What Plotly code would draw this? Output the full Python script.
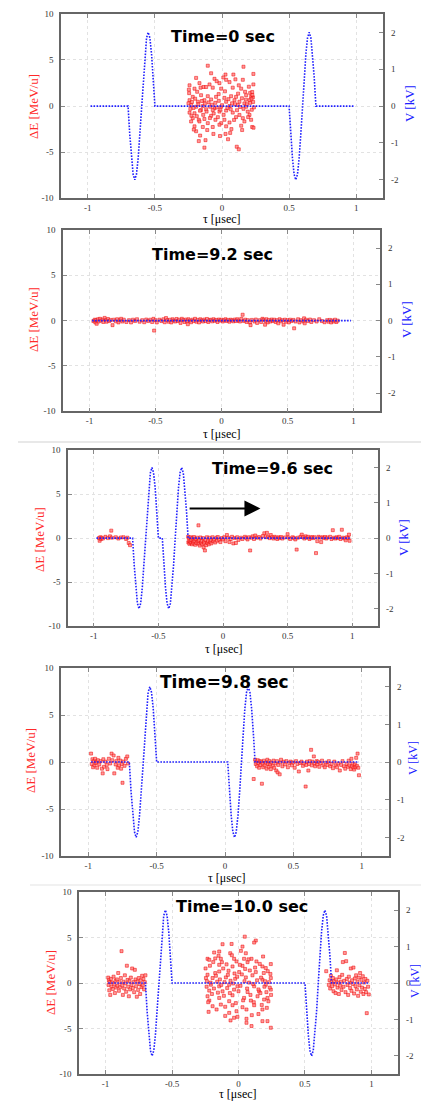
import plotly.graph_objects as go

W, H = 421, 1103

# ---------------- data ----------------
panel_titles = ["Time=0 sec", "Time=9.2 sec", "Time=9.6 sec", "Time=9.8 sec", "Time=10.0 sec"]

tau_ticks = [-1, -0.5, 0, 0.5, 1]
tau_ticktext = ["-1", "-0.5", "0", "0.5", "1"]
de_ticks = [-10, -5, 0, 5, 10]
de_ticktext = ["-10", "-5", "0", "5", "10"]
v_ticks = [-2, -1, 0, 1, 2]
v_ticktext = ["-2", "-1", "0", "1", "2"]

# one RF voltage cycle (offset in usec, voltage in kV)
cycle_dt = [0.0, 0.0125, 0.025, 0.0375, 0.05, 0.0625, 0.075, 0.0875, 0.1,
            0.1125, 0.125, 0.1375, 0.15, 0.1625, 0.175, 0.1875, 0.2]
cycle_v = [0.0, -0.77, -1.41, -1.85, -2.0, -1.85, -1.41, -0.77, 0.0,
           0.77, 1.41, 1.85, 2.0, 1.85, 1.41, 0.77, 0.0]
cycle_starts = [[-0.70, 0.50], [], [-0.70, -0.47], [-0.70, 0.02], [-0.70, 0.50]]
v_line_ends = [-0.98, 0.98]

pts_t0 = [(-0.106,4.38),(0.160,4.27),(-0.081,3.56),(0.026,3.42),(0.085,3.42),(0.234,3.49),(-0.193,3.06),(-0.056,2.96),
(0.031,2.85),(0.155,2.85),(-0.242,2.25),(-0.168,2.49),(-0.138,2.07),(-0.093,2.35),(-0.019,2.49),(0.056,2.60),(0.125,2.25),
(0.234,2.35),(-0.247,1.78),(-0.205,1.89),(-0.118,2.07),(-0.069,2.00),(-0.006,1.89),(0.080,2.00),(0.143,1.89),(0.210,1.43),
(0.225,1.53),(-0.218,1.00),(-0.156,1.18),(-0.106,1.07),(-0.044,1.00),(0.018,0.89),(0.068,1.07),(0.105,1.00),(0.180,1.18),
(0.217,1.00),(-0.242,0.64),(-0.180,0.47),(-0.131,0.64),(-0.081,0.72),(-0.024,0.57),(0.031,0.47),(0.093,0.64),(0.130,0.47),
(0.167,0.29),(0.205,0.64),(-0.230,0.11),(-0.193,-0.07),(-0.143,0.00),(-0.088,-0.07),(-0.056,-0.25),(-0.006,-0.07),(0.056,0.00),
(0.118,0.11),(0.180,-0.07),(-0.242,-0.71),(-0.205,-0.78),(-0.156,-0.42),(-0.118,-0.35),(-0.069,-0.42),(-0.019,-0.60),
(0.031,-0.49),(0.080,-0.71),(0.130,-0.96),(0.192,-0.60),(-0.218,-1.31),(-0.173,-1.49),(-0.131,-1.40),(-0.081,-1.06),
(-0.031,-1.20),(0.018,-1.49),(0.105,-1.20),(0.155,-1.31),(0.205,-0.96),(-0.230,-1.67),(-0.168,-1.67),(-0.106,-1.85),
(-0.049,-1.49),(-0.006,-1.85),(0.056,-1.78),(0.167,-1.67),(0.217,-1.49),(-0.205,-2.20),(-0.143,-2.27),(-0.069,-2.27),
(-0.019,-2.02),(0.031,-2.20),(0.143,-2.13),(0.225,-2.27),(-0.193,-2.73),(-0.064,-3.02),(0.026,-3.02),(0.061,-2.91),
(-0.163,-3.20),(-0.173,-3.80),(-0.123,-3.70),(-0.131,-4.51),(0.110,-4.41),(0.125,-4.69),
(-0.250,0.30),(-0.236,-0.30),(-0.224,0.45),(-0.212,-0.20),(-0.200,0.80),(-0.188,-1.10),(-0.176,0.20),(-0.164,-0.50),
(-0.150,0.55),(-0.140,-0.95),(-0.128,0.25),(-0.115,-0.60),(-0.100,0.40),(-0.090,-1.30),(-0.075,0.15),(-0.062,-0.80),
(-0.050,0.35),(-0.038,-0.15),(-0.025,1.30),(-0.012,-0.40),(0.000,0.10),(0.012,-0.95),(0.022,1.60),(0.040,-0.20),
(0.048,0.75),(0.065,-0.35),(0.075,0.30),(0.090,-1.50),(0.098,0.20),(0.112,-0.45),(0.120,1.35),(0.135,-0.10),(0.148,0.85),
(0.160,-0.30),(0.172,1.55),(0.185,0.20),(0.195,-1.20),(0.210,0.35),(0.222,-0.40),(0.230,0.95),(0.238,-0.15),(-0.245,1.40),
(-0.228,-1.05),(-0.185,1.55),(-0.160,2.00),(-0.110,-2.60),(-0.040,2.70),(0.010,3.10),(0.070,-2.50),(0.100,2.90),
(0.150,-2.60),(0.200,2.10),(0.235,-2.35),(-0.210,-2.55),(0.045,-3.60),(-0.015,-3.25),(0.178,0.70),(0.226,1.20),
(0.232,0.45),(0.220,0.80)]

pts_t92 = [(-0.97,-0.05),(-0.96,0.10),(-0.955,-0.20),(-0.95,0.05),(-0.945,-0.35),(-0.935,0.15),(-0.93,-0.10),(-0.92,0.20),
(-0.91,0.00),(-0.90,0.12),(-0.895,-0.15),(-0.885,0.30),(-0.875,0.05),(-0.87,-0.12),(-0.86,0.18),(-0.85,-0.05),(-0.84,0.08),
(-0.825,-0.50),(-0.815,0.10),(-0.80,-0.08),(-0.79,0.15),(-0.78,-0.20),(-0.77,0.05),(-0.76,0.20),(-0.75,-0.10),(-0.74,0.10),
(-0.72,-0.15),(-0.70,0.05),(-0.685,-0.20),(-0.67,0.10),(-0.655,-0.05),(-0.64,0.15),(-0.62,-0.12),(-0.60,0.05),(-0.585,-0.18),
(-0.57,0.12),(-0.555,-0.05),(-0.54,0.10),(-0.525,-0.15),(-0.515,0.20),(-0.51,-1.10),(-0.50,0.05),(-0.49,-0.20),(-0.47,0.10),
(-0.455,-0.05),(-0.44,0.15),(-0.43,-0.18),(-0.42,0.28),(-0.41,0.05),(-0.40,-0.12),(-0.39,0.10),(-0.38,-0.20),(-0.37,0.15),
(-0.36,0.00),(-0.35,-0.10),(-0.34,0.18),(-0.33,-0.05),(-0.32,0.10),(-0.31,-0.25),(-0.30,0.20),(-0.29,0.05),(-0.28,-0.15),
(-0.27,0.12),(-0.26,-0.08),(-0.255,-0.40),(-0.25,0.15),(-0.24,0.00),(-0.23,-0.18),(-0.22,0.10),(-0.21,-0.05),(-0.20,0.20),
(-0.19,-0.12),(-0.18,0.08),(-0.17,-0.20),(-0.16,0.15),(-0.15,0.02),(-0.14,-0.10),(-0.13,0.12),(-0.12,-0.05),(-0.11,0.18),
(-0.10,-0.15),(-0.09,0.05),(-0.08,0.10),(-0.07,-0.08),(-0.06,0.15),(-0.05,-0.02),(-0.04,0.08),(-0.03,-0.15),(-0.02,0.12),
(-0.01,0.00),(0.00,0.10),(0.01,-0.10),(0.02,0.05),(0.03,0.15),(0.04,-0.05),(0.05,0.08),(0.06,-0.12),(0.07,0.10),(0.08,0.02),
(0.09,-0.08),(0.10,0.12),(0.11,-0.05),(0.12,0.15),(0.13,0.00),(0.14,-0.10),(0.15,0.20),(0.16,0.65),(0.17,-0.05),(0.18,0.10),
(0.19,-0.15),(0.20,0.05),(0.215,-0.20),(0.22,-0.50),(0.23,0.08),(0.25,-0.10),(0.26,0.12),(0.27,-0.25),(0.29,0.05),
(0.30,-0.15),(0.31,0.20),(0.32,0.10),(0.33,-0.45),(0.335,-0.05),(0.34,0.15),(0.35,-0.20),(0.36,0.08),(0.37,-0.10),
(0.38,0.12),(0.39,-0.05),(0.40,0.10),(0.41,-0.15),(0.42,0.05),(0.43,-0.30),(0.44,0.15),(0.45,-0.08),(0.46,0.05),
(0.47,-0.45),(0.48,0.10),(0.49,-0.12),(0.50,0.05),(0.51,-0.20),(0.52,0.10),(0.53,-0.05),(0.545,0.08),(0.55,-0.85),
(0.56,-0.10),(0.58,0.15),(0.59,-0.20),(0.60,0.05),(0.62,-0.10),(0.625,0.25),(0.63,-0.30),(0.64,0.10),(0.655,-0.05),
(0.67,0.12),(0.68,-0.15),(0.70,0.05),(0.72,-0.10),(0.74,0.15),(0.76,-0.05),(0.78,-0.18),(0.80,0.05),(0.81,-0.12),
(0.82,0.08),(0.83,-0.20),(0.84,0.02),(0.85,-0.10),(0.86,0.10),(0.87,-0.15),(0.88,0.00)]

pts_t96 = [(-0.96,0.00),(-0.955,-0.30),(-0.95,0.10),(-0.945,-0.10),(-0.94,0.05),(-0.93,-0.05),(-0.91,0.15),(-0.89,0.00),
(-0.875,0.20),(-0.865,0.85),(-0.86,0.05),(-0.83,0.10),(-0.81,-0.05),(-0.79,0.08),(-0.77,0.10),(-0.75,-0.10),(-0.74,0.05),
(-0.73,-0.55),(-0.72,-0.80),
(-0.27,0.15),(-0.268,-0.50),(-0.265,-0.30),(-0.262,0.05),(-0.26,-0.65),(-0.255,-0.40),(-0.25,0.10),(-0.248,-0.55),
(-0.245,-0.20),(-0.24,-0.70),(-0.235,0.00),(-0.232,-0.45),(-0.228,-0.60),(-0.225,0.12),(-0.22,-0.35),(-0.215,-0.75),
(-0.21,-0.10),(-0.205,-0.55),(-0.20,0.05),(-0.195,-0.40),(-0.19,1.45),(-0.188,-0.65),(-0.185,-0.25),(-0.18,-0.85),
(-0.175,0.08),(-0.17,-0.50),(-0.165,-0.30),(-0.16,-0.70),(-0.155,0.00),(-0.15,-1.05),(-0.148,-0.45),(-0.145,-0.60),
(-0.14,-1.40),(-0.135,-0.20),(-0.13,-0.80),(-0.125,0.10),(-0.12,-0.55),(-0.115,-0.35),(-0.11,-0.70),(-0.105,0.05),
(-0.10,-0.45),(-0.095,-0.25),(-0.09,-0.60),(-0.08,0.10),(-0.075,-0.35),(-0.07,-0.15),(-0.06,-0.50),(-0.05,0.05),
(-0.045,-0.30),(-0.04,0.12),(-0.03,-0.20),(-0.02,-0.45),(-0.01,0.00),(0.00,-0.15),(0.01,0.10),(0.02,-0.35),(0.03,0.35),
(0.04,0.05),(0.05,-0.45),(0.06,-0.10),(0.07,0.15),(0.08,-0.60),(0.09,0.00),(0.10,-0.55),(0.11,0.10),(0.12,-0.20),
(0.14,0.05),(0.15,-0.10),(0.17,0.15),(0.18,0.00),(0.19,-0.15),(0.20,0.10),(0.21,-1.40),(0.22,0.05),(0.23,0.20),
(0.24,-0.10),(0.25,0.30),(0.26,0.05),(0.28,0.12),(0.29,-0.05),(0.31,0.25),(0.32,0.55),(0.33,0.10),(0.34,0.60),(0.35,0.15),
(0.36,0.00),(0.37,0.35),(0.38,0.10),(0.39,-0.05),(0.40,0.15),(0.41,0.05),(0.42,-0.10),(0.43,0.10),(0.44,0.00),(0.45,0.12),
(0.46,-0.05),(0.48,0.08),(0.50,0.45),(0.51,0.05),(0.52,-0.10),(0.54,0.10),(0.55,0.00),(0.56,-0.15),(0.57,-1.30),(0.58,0.05),
(0.60,0.15),(0.61,0.40),(0.62,0.10),(0.63,-0.05),(0.64,0.20),(0.65,0.05),(0.66,0.15),(0.67,-0.10),(0.68,0.05),(0.69,0.12),
(0.70,0.00),(0.71,0.10),(0.72,-1.70),(0.73,-0.35),(0.74,0.15),(0.75,0.05),(0.76,-0.45),(0.77,0.10),(0.78,0.00),(0.79,0.12),
(0.80,-0.05),(0.81,0.08),(0.83,0.15),(0.84,-0.10),(0.85,0.90),(0.86,0.05),(0.87,-0.05),(0.88,0.10),(0.89,0.00),(0.90,0.15),
(0.91,-0.10),(0.92,0.95),(0.93,0.05),(0.94,-0.05),(0.95,-0.25),(0.96,0.10),(0.97,0.00),(0.975,0.40),(0.98,-0.30)]

pts_t98 = [(-0.98,0.90),(-0.975,-0.20),(-0.97,0.30),(-0.965,-0.55),(-0.96,0.10),(-0.955,-0.35),(-0.95,0.35),(-0.945,-0.10),
(-0.94,0.05),(-0.935,-0.60),(-0.93,0.20),(-0.92,-0.25),(-0.91,0.10),(-0.90,-0.70),(-0.895,-1.20),(-0.89,0.30),(-0.885,-0.50),
(-0.875,0.05),(-0.865,-0.30),(-0.86,-0.75),(-0.85,0.35),(-0.84,-0.15),(-0.83,0.90),(-0.825,0.20),(-0.815,0.70),(-0.81,-1.20),
(-0.80,-0.25),(-0.795,0.10),(-0.785,-0.60),(-0.78,0.45),(-0.775,-0.35),(-0.765,0.15),(-0.76,-0.70),(-0.755,-0.20),
(-0.75,-2.20),(-0.745,0.05),(-0.735,-0.40),(-0.725,0.35),(-0.715,0.60),(-0.71,-0.15),
(0.21,-1.80),(0.22,0.25),(0.225,-0.20),(0.23,0.05),(0.235,-0.45),(0.24,0.20),(0.245,-0.10),(0.25,-0.60),(0.255,0.10),
(0.26,-0.30),(0.265,0.05),(0.27,-2.30),(0.275,-0.15),(0.28,-0.55),(0.285,0.15),(0.29,-0.35),(0.30,-0.05),(0.305,-0.70),
(0.31,0.25),(0.315,-0.20),(0.32,-0.50),(0.325,0.10),(0.33,-0.25),(0.335,-0.75),(0.34,-0.05),(0.35,-0.40),(0.355,0.15),
(0.36,-0.60),(0.37,-0.15),(0.375,-0.90),(0.38,0.10),(0.385,-1.10),(0.39,-0.30),(0.40,-1.30),(0.405,-0.05),(0.41,0.25),
(0.42,-0.45),(0.43,0.05),(0.44,-0.25),(0.45,0.10),(0.46,-0.55),(0.47,-0.10),(0.48,0.05),(0.49,-0.35),(0.50,-0.05),
(0.51,-0.60),(0.52,0.10),(0.53,-0.20),(0.54,-1.00),(0.55,-0.10),(0.56,0.05),(0.57,-0.40),(0.58,-0.15),(0.59,-2.60),
(0.595,-0.30),(0.60,0.05),(0.61,-0.90),(0.615,-0.20),(0.62,0.10),(0.63,1.30),(0.635,-0.35),(0.64,0.05),(0.65,0.60),
(0.655,-0.15),(0.66,-0.45),(0.67,0.10),(0.675,-0.25),(0.68,0.05),(0.69,-0.50),(0.70,-0.10),(0.71,0.15),(0.72,-0.35),
(0.73,-0.55),(0.74,-0.05),(0.75,-0.30),(0.76,0.10),(0.77,-0.45),(0.78,-0.20),(0.79,-0.65),(0.80,0.05),(0.81,-0.35),
(0.82,-0.55),(0.83,-0.15),(0.84,-0.90),(0.85,-0.30),(0.86,0.10),(0.87,-0.45),(0.88,-0.70),(0.89,-0.20),(0.90,-0.50),
(0.905,0.15),(0.91,-0.35),(0.92,-0.75),(0.925,0.35),(0.93,-0.45),(0.935,-0.15),(0.94,-0.60),(0.945,-0.80),(0.95,-0.25),
(0.955,-0.55),(0.96,0.45),(0.965,-0.40),(0.97,0.90),(0.975,-0.60),(0.98,-1.40)]

pts_t100 = [(-0.98,0.60),(-0.978,-0.20),(-0.975,0.30),(-0.972,-0.80),(-0.97,0.10),(-0.965,-1.30),(-0.96,0.45),(-0.955,-0.40),
(-0.95,0.05),(-0.945,-0.65),(-0.94,0.70),(-0.935,-0.15),(-0.93,-1.10),(-0.925,0.25),(-0.92,-0.50),(-0.915,0.40),(-0.91,-0.30),
(-0.905,1.10),(-0.90,-0.85),(-0.895,0.10),(-0.89,-0.45),(-0.885,0.55),(-0.88,3.50),(-0.875,-0.25),(-0.87,-1.30),
(-0.865,0.15),(-0.86,-0.60),(-0.855,0.85),(-0.85,-0.05),(-0.845,-0.95),(-0.84,1.90),(-0.835,0.35),(-0.83,-0.40),
(-0.825,-1.45),(-0.82,0.20),(-0.815,-0.70),(-0.81,0.60),(-0.805,-0.20),(-0.80,1.60),(-0.795,-0.55),(-0.79,0.10),
(-0.785,-1.00),(-0.78,1.45),(-0.775,0.40),(-0.77,-0.35),(-0.765,-1.50),(-0.76,0.15),(-0.755,-0.75),(-0.75,0.55),
(-0.745,-0.10),(-0.74,-1.20),(-0.735,0.30),(-0.73,-0.45),(-0.725,0.80),(-0.72,-0.25),(-0.715,0.45),(-0.71,-0.70),
(-0.705,0.10),(-0.70,0.85),
(0.047,5.09),(0.130,4.66),(0.118,4.44),(-0.120,4.26),(-0.052,4.29),(-0.183,3.35),(-0.145,3.46),(-0.062,3.27),(0.018,3.53),
(0.055,3.27),(-0.233,2.66),(-0.220,2.55),(-0.133,2.66),(-0.033,2.66),(0.042,2.66),(0.098,2.66),(0.185,2.91),(-0.125,2.29),
(-0.015,2.37),(0.068,2.29),(0.135,2.37),(0.243,2.08),(-0.145,2.00),(-0.045,1.82),(0.030,1.89),(0.180,1.82),(0.205,1.64),
(-0.233,0.91),(-0.175,1.09),(-0.145,1.27),(-0.075,1.35),(0.005,1.20),(0.085,1.38),(0.130,1.20),(-0.245,0.55),(-0.195,0.55),
(-0.095,0.62),(-0.025,0.47),(0.055,0.62),(0.180,0.37),(0.243,0.55),(-0.208,-0.18),(-0.145,-0.36),(-0.070,-0.18),
(-0.008,-0.36),(0.118,-0.36),(0.205,-0.18),(-0.220,-0.83),(-0.120,-0.91),(-0.033,-0.72),(0.068,-0.98),(0.155,-0.91),
(0.243,-0.72),(-0.233,-1.45),(-0.145,-1.63),(-0.045,-1.34),(0.042,-1.63),(0.143,-1.45),(0.218,-1.63),(-0.220,-1.92),
(-0.070,-1.99),(0.093,-1.92),(0.193,-1.81),(-0.195,-2.54),(-0.133,-2.36),(-0.045,-2.43),(0.030,-2.65),(0.118,-2.43),
(0.213,-2.72),(-0.225,-3.16),(-0.070,-3.27),(-0.015,-3.09),(0.060,-2.90),(0.180,-2.90),(-0.033,-3.81),(-0.008,-3.70),
(0.060,-3.92),(0.100,-3.52),(0.180,-4.18),(0.218,-4.18),(0.060,-4.36),(0.098,-4.72),(0.243,-4.90),
(-0.248,1.60),(-0.240,-0.40),(-0.238,0.20),(-0.228,-2.10),(-0.215,1.90),(-0.210,0.05),(-0.200,-1.20),(-0.190,2.30),
(-0.185,-0.60),(-0.170,0.80),(-0.165,-2.90),(-0.160,0.15),(-0.155,-1.05),(-0.150,3.00),(-0.140,0.40),(-0.130,-0.20),
(-0.115,1.60),(-0.110,-1.40),(-0.105,0.10),(-0.100,-2.60),(-0.090,2.05),(-0.085,-0.55),(-0.080,0.90),(-0.065,-1.10),
(-0.060,0.25),(-0.050,3.05),(-0.040,-0.05),(-0.030,1.05),(-0.020,-2.20),(-0.010,0.70),(0.000,-0.90),(0.010,2.00),
(0.015,-0.30),(0.025,0.95),(0.035,-1.90),(0.045,0.20),(0.050,1.55),(0.065,-0.60),(0.075,2.60),(0.080,0.05),(0.090,-1.30),
(0.105,0.85),(0.110,-0.10),(0.115,-2.10),(0.125,1.70),(0.140,0.30),(0.150,-0.70),(0.160,2.10),(0.165,-1.10),(0.170,0.60),
(0.175,-2.40),(0.190,1.10),(0.195,-0.40),(0.200,0.20),(0.210,-1.00),(0.220,1.30),(0.225,-2.00),(0.230,0.10),(0.235,-0.50),
(0.240,1.00),(0.245,-1.30),(-0.060,-4.10),(0.150,-3.40),(-0.175,2.70),(0.030,4.00),(-0.100,-3.60),
(0.66,1.30),(0.68,-0.20),(0.685,0.30),(0.69,-0.60),(0.695,0.80),(0.70,0.10),(0.705,-0.35),(0.71,0.55),(0.715,-0.90),
(0.72,0.20),(0.725,-0.15),(0.73,-1.10),(0.735,0.40),(0.74,1.40),(0.745,-0.50),(0.75,0.05),(0.755,-1.20),(0.76,0.65),
(0.765,-0.30),(0.77,0.15),(0.775,-0.75),(0.78,0.90),(0.785,2.30),(0.79,-0.40),(0.795,0.25),(0.80,3.30),(0.805,-1.00),
(0.81,2.40),(0.815,0.45),(0.82,-0.20),(0.825,-1.30),(0.83,0.70),(0.835,0.05),(0.84,-0.55),(0.845,1.60),(0.85,-0.85),
(0.855,0.30),(0.86,-0.10),(0.865,1.70),(0.87,-1.15),(0.875,0.50),(0.88,-0.35),(0.885,0.85),(0.89,-0.70),(0.895,0.15),
(0.90,-1.40),(0.905,0.60),(0.91,-0.25),(0.915,1.10),(0.92,-0.95),(0.925,0.35),(0.93,-0.50),(0.935,0.75),(0.94,-1.20),
(0.945,0.05),(0.95,-0.65),(0.955,0.45),(0.96,-1.00),(0.965,-3.30),(0.97,0.25),(0.975,-0.40),(0.98,-1.25)]

panel_points = [pts_t0, pts_t92, pts_t96, pts_t98, pts_t100]

# ---------------- layout geometry (pixels) ----------------
plot_boxes = [(61, 383, 9, 195), (63, 380, 227, 410), (68, 378, 449, 627),
              (61, 389, 669, 859), (79, 398, 895, 1079)]
title_pos = [(223, 32), (212, 252), (272, 468), (224, 683), (242, 910)]
title_size = [16, 16, 16, 17, 16]
de_label_pos = [(33, 103), (33, 318), (39, 540), (30, 763), (50, 987)]
v_label_pos = [(409, 100), (406, 318), (403, 538), (413, 760), (415, 985)]
v_label_size = [13, 13, 13, 12, 12]
tau_label_pos = [(222, 216), (222, 433), (224, 650), (227, 881), (238, 1099)]

RED = "#ff2a2a"
BLUE = "#2020ff"
SERIF = "Liberation Serif, Times New Roman, serif"


def px(x):
    return x / W


def py(y):
    return 1 - y / H


fig = go.Figure()
layout = dict(width=W, height=H, margin=dict(l=0, r=0, t=0, b=0),
              paper_bgcolor="white", plot_bgcolor="white", showlegend=False)
annotations = []

for i in range(5):
    xname = "x" if i == 0 else f"x{i+1}"
    yl = "y" if i == 0 else f"y{2*i+1}"
    yr = f"y{2*i+2}"
    xkey = "xaxis" if i == 0 else f"xaxis{i+1}"
    ylkey = "yaxis" if i == 0 else f"yaxis{2*i+1}"
    yrkey = f"yaxis{2*i+2}"
    l, r, t, b = plot_boxes[i]

    tick_font = dict(family=SERIF, size=9, color="#333")
    layout[xkey] = dict(domain=[px(l), px(r)], anchor=yl, range=[-1.2, 1.2],
                        tickvals=tau_ticks, ticktext=tau_ticktext, tickfont=tick_font,
                        ticks="inside", ticklen=4, tickcolor="#888", mirror="ticks",
                        ticklabelstandoff=0,
                        showline=True, linecolor="#666", linewidth=1.5,
                        showgrid=True, gridcolor="#e2e2e2", griddash="dot", gridwidth=1,
                        zeroline=False)
    layout[ylkey] = dict(domain=[py(b), py(t)], anchor=xname, range=[-10, 10],
                         tickvals=de_ticks, ticktext=de_ticktext, tickfont=tick_font,
                         ticks="inside", ticklen=4, tickcolor="#888", mirror=True,
                         ticklabelstandoff=4,
                         showline=True, linecolor="#666", linewidth=1.5,
                         showgrid=True, gridcolor="#e2e2e2", griddash="dot", gridwidth=1,
                         zeroline=False)
    layout[yrkey] = dict(domain=[py(b), py(t)], anchor=xname, overlaying=yl, side="right",
                         range=[-2.5, 2.5], tickvals=v_ticks, ticktext=v_ticktext,
                         tickfont=tick_font, ticks="inside", ticklen=4, tickcolor="#888",
                         ticklabelstandoff=7,
                         showline=False, showgrid=False, zeroline=False)

    # voltage waveform
    vt = [v_line_ends[0]]
    vv = [0.0]
    for s in cycle_starts[i]:
        vt += [s + d for d in cycle_dt]
        vv += list(cycle_v)
    vt.append(v_line_ends[1])
    vv.append(0.0)

    pts = panel_points[i]
    fig.add_trace(go.Scatter(x=[p[0] for p in pts], y=[p[1] for p in pts], mode="markers",
                             xaxis=xname, yaxis=yl, hoverinfo="skip",
                             marker=dict(symbol="square", size=3, color="rgba(255,120,120,0.75)",
                                         line=dict(width=0.6, color="rgba(240,0,0,0.85)"))))
    fig.add_trace(go.Scatter(x=vt, y=vv, mode="lines", xaxis=xname, yaxis=yr, hoverinfo="skip",
                             line=dict(color=BLUE, width=1.6, dash="1.6px,1.4px")))

    tx, ty = title_pos[i]
    annotations.append(dict(x=px(tx), y=py(ty), xref="paper", yref="paper", showarrow=False,
                            text=f"<b>{panel_titles[i]}</b>", xanchor="center", yanchor="middle",
                            font=dict(family="DejaVu Sans, sans-serif", size=title_size[i], color="black")))
    lx, ly = de_label_pos[i]
    annotations.append(dict(x=px(lx), y=py(ly), xref="paper", yref="paper", showarrow=False,
                            text="ΔE [MeV/u]", textangle=-90, xanchor="center", yanchor="middle",
                            font=dict(family=SERIF, size=13, color=RED)))
    rx, ry = v_label_pos[i]
    annotations.append(dict(x=px(rx), y=py(ry), xref="paper", yref="paper", showarrow=False,
                            text="V [kV]", textangle=-90, xanchor="center", yanchor="middle",
                            font=dict(family=SERIF, size=v_label_size[i], color=BLUE)))
    bx, by = tau_label_pos[i]
    annotations.append(dict(x=px(bx), y=py(by), xref="paper", yref="paper", showarrow=False,
                            text="τ [μsec]", xanchor="center", yanchor="middle",
                            font=dict(family=SERIF, size=12, color="black")))

# arrow in the Time=9.6 sec panel
annotations.append(dict(x=0.29, y=3.37, xref="x3", yref="y5", ax=-0.27, ay=3.37,
                        axref="x3", ayref="y5", showarrow=True, text="",
                        arrowhead=2, arrowsize=1.6, arrowwidth=2, arrowcolor="black"))

layout["annotations"] = annotations
layout["shapes"] = [
    dict(type="line", xref="paper", yref="paper", x0=px(18), x1=1, y0=py(441), y1=py(441),
         line=dict(color="#e8e8e8", width=2)),
    dict(type="line", xref="paper", yref="paper", x0=px(30), x1=1, y0=py(888), y1=py(888),
         line=dict(color="#ededed", width=1.5)),
]
fig.update_layout(**layout)
fig.write_html("out.html", config={"displayModeBar": False},
               post_script="document.body.style.margin='0';document.body.style.overflow='hidden';")
